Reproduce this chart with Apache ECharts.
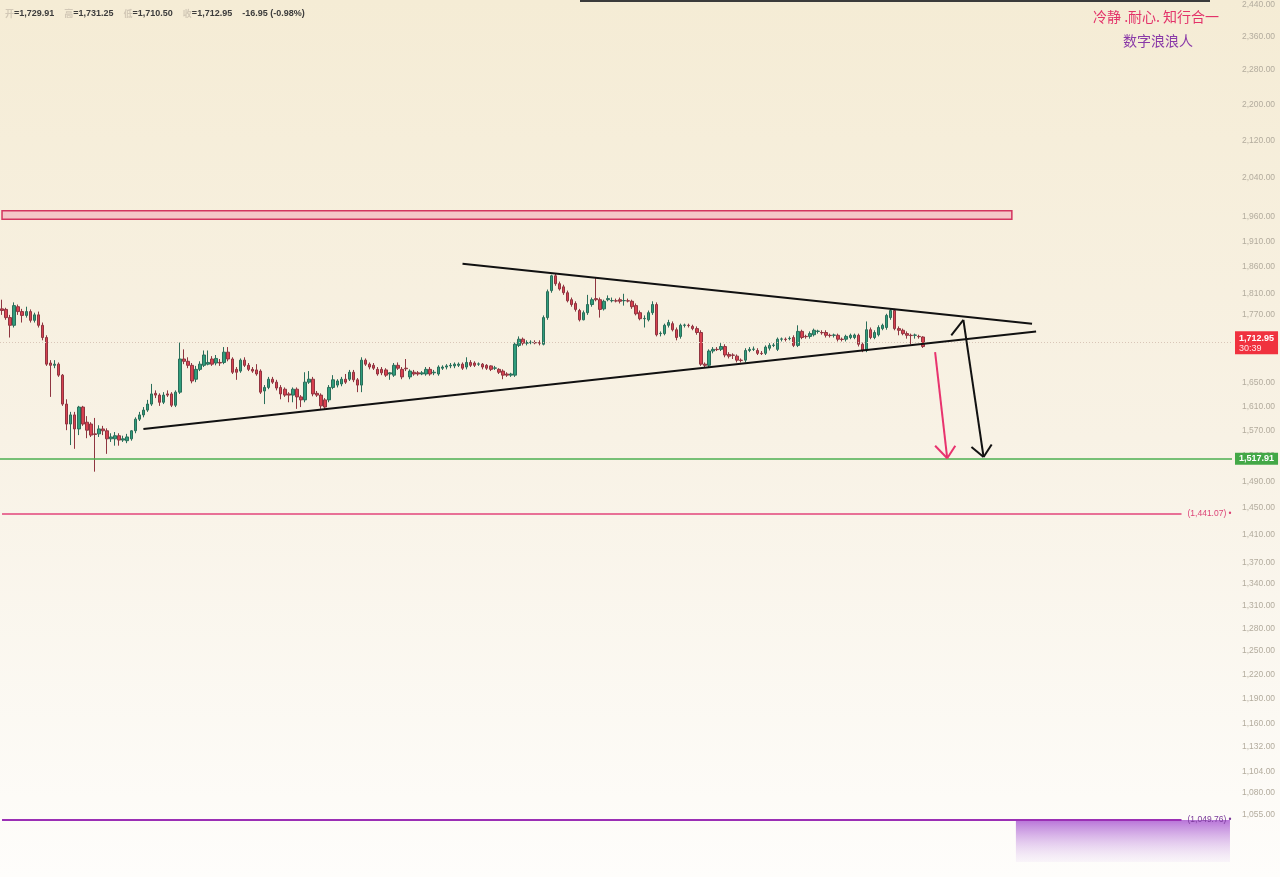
<!DOCTYPE html>
<html>
<head>
<meta charset="utf-8">
<script src="https://cdn.jsdelivr.net/npm/echarts@6/dist/echarts.min.js"></script>
<style>
html, body { margin: 0; padding: 0; }
#container { width: 1280px; height: 877px; }
</style>
</head>
<body>
<div id="container"></div>
<script>
// candles: [open, close, low, high]
var candles = [
    [1781, 1778, 1770, 1798], [1780, 1765, 1761, 1783], [1765, 1751, 1729, 1770], [1751, 1787, 1747, 1793],
    [1785, 1776, 1770, 1789], [1776, 1769, 1756, 1781], [1769, 1776, 1765, 1785], [1776, 1760, 1756, 1780],
    [1760, 1770, 1756, 1774], [1770, 1751, 1747, 1776], [1751, 1729, 1724, 1756], [1729, 1682, 1679, 1733],
    [1684, 1680, 1626, 1689], [1680, 1682, 1675, 1689], [1682, 1663, 1660, 1685], [1663, 1614, 1611, 1665],
    [1614, 1581, 1571, 1622], [1581, 1596, 1547, 1601], [1596, 1573, 1541, 1601], [1573, 1609, 1563, 1611],
    [1609, 1581, 1578, 1611], [1584, 1571, 1558, 1594], [1581, 1563, 1560, 1584], [1565, 1564, 1505, 1591],
    [1565, 1573, 1560, 1579], [1573, 1570, 1563, 1578], [1570, 1557, 1533, 1574], [1557, 1560, 1552, 1566],
    [1557, 1562, 1546, 1568], [1562, 1555, 1546, 1566], [1555, 1557, 1552, 1562], [1554, 1560, 1550, 1565],
    [1557, 1570, 1554, 1571], [1570, 1589, 1566, 1592], [1589, 1596, 1586, 1601], [1596, 1604, 1592, 1609],
    [1604, 1614, 1601, 1621], [1614, 1631, 1611, 1648], [1632, 1629, 1624, 1637], [1629, 1617, 1611, 1632],
    [1617, 1629, 1614, 1634], [1631, 1629, 1626, 1637], [1631, 1612, 1609, 1634], [1612, 1634, 1609, 1637],
    [1634, 1691, 1631, 1720], [1691, 1687, 1682, 1708], [1687, 1680, 1675, 1694], [1680, 1653, 1649, 1684],
    [1656, 1673, 1651, 1679], [1673, 1682, 1670, 1687], [1680, 1698, 1677, 1706], [1682, 1685, 1680, 1706],
    [1691, 1682, 1679, 1696], [1684, 1692, 1680, 1698], [1685, 1684, 1679, 1691], [1685, 1703, 1682, 1712],
    [1703, 1691, 1687, 1712], [1691, 1668, 1665, 1694], [1673, 1668, 1655, 1677], [1670, 1689, 1667, 1692],
    [1689, 1680, 1677, 1694], [1680, 1673, 1670, 1684], [1673, 1670, 1667, 1677], [1672, 1665, 1662, 1682],
    [1670, 1634, 1631, 1673], [1636, 1642, 1614, 1646], [1642, 1656, 1639, 1660], [1656, 1651, 1648, 1660],
    [1651, 1641, 1637, 1655], [1642, 1631, 1622, 1646], [1639, 1629, 1626, 1642], [1631, 1629, 1617, 1634],
    [1629, 1639, 1617, 1642], [1639, 1626, 1606, 1642], [1626, 1621, 1609, 1629], [1621, 1651, 1617, 1668],
    [1651, 1656, 1648, 1670], [1656, 1631, 1627, 1660], [1632, 1629, 1626, 1636], [1629, 1611, 1606, 1632],
    [1621, 1609, 1606, 1624], [1621, 1642, 1617, 1646], [1642, 1655, 1639, 1663], [1646, 1653, 1642, 1656],
    [1648, 1656, 1644, 1660], [1656, 1651, 1648, 1665], [1656, 1668, 1653, 1672], [1668, 1655, 1651, 1672],
    [1655, 1646, 1634, 1658], [1646, 1689, 1634, 1694], [1689, 1682, 1679, 1692], [1682, 1677, 1673, 1685],
    [1680, 1675, 1672, 1684], [1673, 1665, 1662, 1677], [1673, 1667, 1663, 1677], [1672, 1663, 1660, 1675],
    [1665, 1667, 1655, 1668], [1663, 1680, 1660, 1684], [1680, 1675, 1672, 1685], [1673, 1660, 1656, 1677],
    [1675, 1674, 1670, 1691], [1660, 1670, 1656, 1673], [1668, 1665, 1662, 1672], [1667, 1665, 1662, 1670],
    [1665, 1667, 1663, 1670], [1665, 1673, 1662, 1677], [1673, 1665, 1662, 1677], [1667, 1668, 1663, 1672],
    [1665, 1677, 1662, 1680], [1675, 1677, 1672, 1680], [1677, 1679, 1673, 1682], [1679, 1680, 1675, 1684],
    [1679, 1682, 1675, 1685], [1680, 1682, 1677, 1685], [1682, 1675, 1672, 1685], [1677, 1685, 1673, 1694],
    [1685, 1680, 1677, 1689], [1684, 1680, 1677, 1687], [1682, 1682.5, 1679, 1685], [1682, 1677, 1673, 1684],
    [1680, 1675, 1672, 1682], [1679, 1673, 1670, 1680], [1675, 1675.5, 1672, 1679], [1673, 1668, 1665, 1675],
    [1670, 1663, 1656, 1673], [1665, 1663, 1660, 1668], [1663, 1665, 1660, 1667], [1663, 1717, 1660, 1720],
    [1715, 1726, 1712, 1731], [1726, 1719, 1715, 1729], [1719, 1720, 1715, 1724], [1720, 1720.5, 1717, 1724],
    [1720, 1719.5, 1717, 1724], [1720, 1719, 1715, 1724], [1717, 1765, 1715, 1769], [1765, 1813, 1761, 1817],
    [1815, 1843, 1811, 1845], [1843, 1828, 1824, 1847], [1828, 1818, 1815, 1832], [1822, 1811, 1807, 1826],
    [1811, 1796, 1793, 1815], [1798, 1789, 1785, 1802], [1791, 1780, 1776, 1795], [1778, 1761, 1758, 1781],
    [1761, 1774, 1760, 1778], [1774, 1789, 1770, 1807], [1789, 1798, 1785, 1802], [1800, 1798, 1795, 1839],
    [1798, 1780, 1765, 1802], [1781, 1795, 1778, 1798], [1798, 1800, 1795, 1806], [1796, 1796.5, 1793, 1802],
    [1796, 1795.5, 1793, 1800], [1798, 1795, 1791, 1802], [1796, 1796.5, 1787, 1809], [1796, 1795.5, 1793, 1800],
    [1795, 1785, 1781, 1798], [1787, 1772, 1769, 1791], [1774, 1763, 1760, 1778], [1763, 1763.5, 1747, 1769],
    [1761, 1774, 1758, 1778], [1774, 1789, 1770, 1795], [1789, 1734, 1731, 1793], [1736, 1736.5, 1731, 1740],
    [1736, 1751, 1733, 1754], [1751, 1756, 1747, 1761], [1754, 1743, 1740, 1758], [1743, 1729, 1724, 1747],
    [1731, 1751, 1727, 1754], [1751, 1751.5, 1747, 1754], [1751, 1750.5, 1747, 1754], [1749, 1745, 1742, 1752],
    [1745, 1738, 1734, 1749], [1738, 1682, 1679, 1742], [1682, 1680, 1677, 1685], [1680, 1705, 1677, 1708],
    [1705, 1708, 1701, 1712], [1708, 1707.5, 1705, 1712], [1708, 1713, 1705, 1719], [1713, 1698, 1694, 1717],
    [1699, 1696, 1692, 1703], [1698, 1697.5, 1691, 1701], [1696, 1689, 1685, 1699], [1689, 1688.5, 1685, 1692],
    [1689, 1706, 1685, 1710], [1706, 1708, 1703, 1712], [1708, 1708.5, 1705, 1713], [1706, 1701, 1698, 1710],
    [1701, 1700.5, 1698, 1705], [1701, 1712, 1698, 1715], [1710, 1715, 1706, 1719], [1715, 1715.5, 1712, 1719],
    [1708, 1726, 1705, 1729], [1726, 1726.5, 1722, 1729], [1726, 1725.5, 1722, 1729], [1727, 1727.5, 1724, 1731],
    [1729, 1715, 1712, 1733], [1715, 1740, 1712, 1751], [1740, 1729, 1726, 1743], [1731, 1730.5, 1727, 1734],
    [1731, 1736, 1727, 1740], [1734, 1742, 1731, 1745], [1740, 1740.5, 1736, 1743], [1738, 1737.5, 1734, 1742],
    [1738, 1733, 1729, 1742], [1733, 1732.5, 1729, 1736], [1733, 1733.5, 1729, 1736], [1733, 1726, 1722, 1736],
    [1726, 1725.5, 1722, 1729], [1726, 1731, 1722, 1734], [1729, 1733, 1726, 1736], [1729, 1733.5, 1726, 1736],
    [1733, 1717, 1713, 1736], [1717, 1706, 1703, 1720], [1706, 1743, 1703, 1758], [1743, 1729, 1726, 1747],
    [1729, 1738, 1726, 1742], [1734, 1747, 1731, 1751], [1745, 1751, 1742, 1754], [1747, 1769, 1743, 1772],
    [1765, 1778, 1761, 1781], [1778, 1745, 1742, 1781], [1745, 1742, 1733, 1749], [1742, 1736, 1733, 1745],
    [1736, 1733, 1727, 1740], [1733, 1732.5, 1717, 1736], [1733, 1733.5, 1727, 1736], [1731, 1730.5, 1727, 1734],
    [1729.91, 1712.95, 1710.50, 1731.25]
];

var slotCount = 305; // candles plus empty room on the right
var yTicks = [2440, 2360, 2280, 2200, 2120, 2040, 1960, 1910, 1860, 1810, 1770, 1730, 1650, 1610,
    1570, 1530, 1490, 1450, 1410, 1370, 1340, 1310, 1280, 1250, 1220, 1190, 1160, 1132, 1104, 1080, 1055];
var yRange = [989.6, 2441];

var lastPrice = 1712.95;
var countdown = '30:39';
var supportLevel = 1517.91;
var targetLevel = 1441.07;
var bottomLevel = 1049.76;
var resistZone = [1954, 1971];     // price band
var resistZoneEnd = 250;           // candle slot where the band stops
var levelLineEnd = 292;

// drawings: [slot, price]
var upperTrend = [[114, 1866], [255, 1754]];
var lowerTrend = [[35, 1573], [256, 1740]];
var pinkArrow = [[231, 1703], [234, 1526]];
var pinkArrowHead = [[231, 1546], [236, 1546]];
var blackArrow = [[235, 1733], [238, 1761], [243, 1528]];
var blackArrowHead = [[240, 1544], [245, 1548]];

var L = Math.log;

function fmt(v) {
    return v.toLocaleString('en-US', { minimumFractionDigits: 2, maximumFractionDigits: 2 });
}

function seg(a, b, style) {
    return [
        { coord: [a[0], L(a[1])], lineStyle: style },
        { coord: [b[0], L(b[1])] }
    ];
}

var black = { color: '#111', width: 2, type: 'solid' };
var pink = { color: '#e8336e', width: 2, type: 'solid' };

var drawLines = [];
drawLines.push(seg(upperTrend[0], upperTrend[1], black));
drawLines.push(seg(lowerTrend[0], lowerTrend[1], black));
drawLines.push(seg(pinkArrow[0], pinkArrow[1], pink));
pinkArrowHead.forEach(function (p) { drawLines.push(seg(p, pinkArrow[1], pink)); });
drawLines.push(seg(blackArrow[0], blackArrow[1], black));
drawLines.push(seg(blackArrow[1], blackArrow[2], black));
blackArrowHead.forEach(function (p) { drawLines.push(seg(p, blackArrow[2], black)); });

var levelLines = [
    {
        yAxis: L(lastPrice),
        lineStyle: { color: '#d9c6b8', width: 1, type: [1, 2] },
        label: {
            show: true, position: 'end', distance: 3,
            formatter: '{a|' + fmt(lastPrice) + '}\n{b|' + countdown + '}',
            backgroundColor: '#f0323f', padding: [2, 4, 1, 4],
            rich: {
                a: { color: '#fff', fontSize: 9, fontWeight: 'bold', lineHeight: 10, fontFamily: 'Liberation Sans' },
                b: { color: '#ffe3e6', fontSize: 9, lineHeight: 10, fontFamily: 'Liberation Sans' }
            }
        }
    },
    {
        yAxis: L(supportLevel),
        lineStyle: { color: '#4caf50', width: 1.5, type: 'solid' },
        label: {
            show: true, position: 'end', distance: 3,
            formatter: fmt(supportLevel),
            backgroundColor: '#43a847', padding: [2, 4, 1, 4],
            color: '#fff', fontSize: 9, fontWeight: 'bold', fontFamily: 'Liberation Sans'
        }
    },
    [
        {
            coord: [0, L(targetLevel)],
            lineStyle: { color: '#e2457a', width: 1.5, type: 'solid' },
            label: {
                show: true, position: 'end', distance: 6,
                formatter: '(' + fmt(targetLevel) + ') •',
                color: '#dc4477', fontSize: 8.5, fontFamily: 'Liberation Sans'
            }
        },
        { coord: [levelLineEnd, L(targetLevel)] }
    ],
    [
        {
            coord: [0, L(bottomLevel)],
            lineStyle: { color: '#9b2fb5', width: 2, type: 'solid' },
            label: {
                show: true, position: 'end', distance: 6,
                formatter: '(' + fmt(bottomLevel) + ') •',
                color: '#7b3a9a', fontSize: 8.5, fontFamily: 'Liberation Sans'
            }
        },
        { coord: [levelLineEnd, L(bottomLevel)] }
    ]
];

var slots = [];
for (var i = 0; i < slotCount; i++) slots.push(String(i));

var dom = document.getElementById('container');
var myChart = echarts.init(dom, null, { renderer: 'canvas' });

var option = {
    animation: false,
    backgroundColor: {
        type: 'linear', x: 0, y: 0, x2: 0, y2: 1,
        colorStops: [
            { offset: 0, color: '#f5ecd5' },
            { offset: 0.5, color: '#f8f2e5' },
            { offset: 1, color: '#fefdfb' }
        ]
    },
    title: [
        {
            left: 5, top: 5, padding: 0,
            text: '{l|开}{v|=1,729.91}  {l|高}{v|=1,731.25}  {l|低}{v|=1,710.50}  {l|收}{v|=1,712.95}  {v|-16.95 (-0.98%)}',
            textStyle: {
                rich: {
                    l: { color: '#d2c8b6', fontSize: 9, fontFamily: 'Noto Sans CJK SC' },
                    v: { color: '#3c3c3c', fontSize: 9, fontFamily: 'Liberation Sans' }
                }
            }
        },
        {
            left: 1093, top: 10, padding: 0,
            text: '冷静 .耐心. 知行合一',
            textStyle: { color: '#e3336a', fontSize: 14, fontWeight: 'normal', fontFamily: 'Noto Sans CJK SC' }
        },
        {
            left: 1123, top: 34, padding: 0,
            text: '数字浪浪人',
            textStyle: { color: '#8a3aa8', fontSize: 14, fontWeight: 'normal', fontFamily: 'Noto Sans CJK SC' }
        }
    ],
    graphic: [
        { type: 'rect', shape: { x: 580, y: 0, width: 630, height: 2 }, style: { fill: '#3b3b3b' } }
    ],
    grid: { left: 0, right: 48, top: 0, bottom: 0 },
    xAxis: {
        type: 'category',
        data: slots,
        boundaryGap: true,
        show: false
    },
    yAxis: {
        type: 'value',
        position: 'right',
        min: L(yRange[0]),
        max: L(yRange[1]),
        axisLine: { show: false },
        axisTick: { show: false },
        splitLine: { show: false },
        axisLabel: {
            customValues: yTicks.map(L),
            formatter: function (v) { return fmt(Math.round(Math.exp(v) * 100) / 100); },
            color: '#b3ac9e',
            fontSize: 8.5,
            fontFamily: 'Liberation Sans',
            margin: 10
        }
    },
    series: [
        {
            type: 'candlestick',
            data: candles.map(function (r) { return r.map(L); }),
            barWidth: 3,
            itemStyle: {
                color: '#2f9d7c',
                color0: '#d8404f',
                borderColor: '#2a6e5a',
                borderColor0: '#8f3540',
                borderWidth: 1
            },
            markLine: {
                silent: true,
                symbol: ['none', 'none'],
                animation: false,
                data: levelLines.concat(drawLines)
            },
            markArea: {
                silent: true,
                data: [
                    [
                        {
                            coord: [0, L(resistZone[1])],
                            itemStyle: { color: 'rgba(243, 170, 185, 0.6)', borderColor: '#d3345f', borderWidth: 1.5 }
                        },
                        { coord: [resistZoneEnd, L(resistZone[0])] }
                    ],
                    [
                        {
                            coord: [251, L(bottomLevel)],
                            itemStyle: {
                                color: {
                                    type: 'linear', x: 0, y: 0, x2: 0, y2: 1,
                                    colorStops: [
                                        { offset: 0, color: 'rgba(160, 70, 205, 0.75)' },
                                        { offset: 1, color: 'rgba(235, 220, 245, 0.25)' }
                                    ]
                                }
                            }
                        },
                        { coord: [slotCount - 1, L(1005)] }
                    ]
                ]
            }
        }
    ]
};

if (option && typeof option === 'object') {
    myChart.setOption(option);
}

window.addEventListener('resize', myChart.resize);
</script>
</body>
</html>
